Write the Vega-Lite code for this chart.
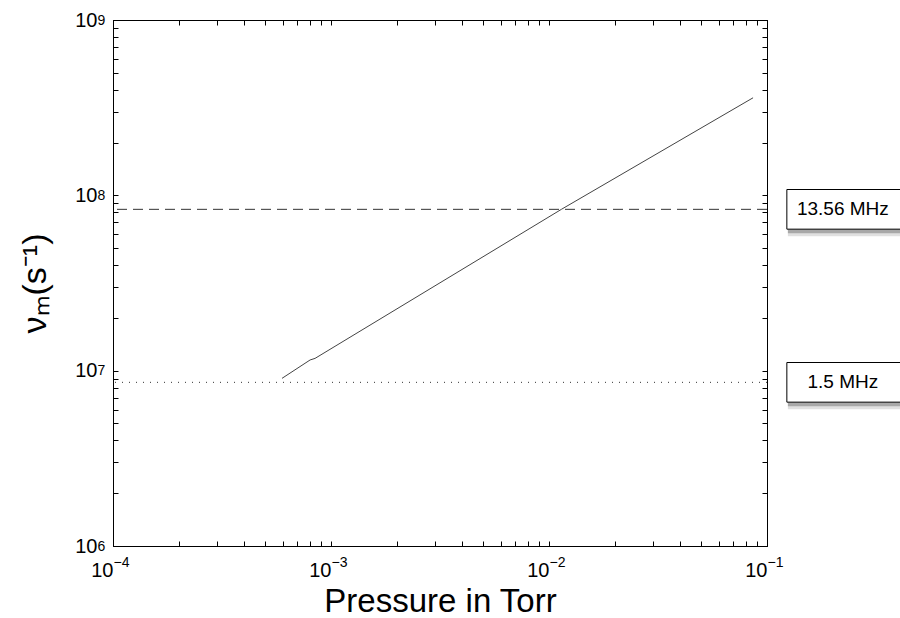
{
  "$schema": "https://vega.github.io/schema/vega-lite/v6.json",
  "autosize": {"type": "none"},
  "width": 654,
  "height": 526,
  "padding": {"left": 113, "top": 20, "right": 133, "bottom": 72},
  "background": "white",
  "config": {
    "font": "Liberation Sans",
    "view": {"stroke": "black", "strokeWidth": 1},
    "axis": {
      "domainColor": "black",
      "tickColor": "black",
      "tickSize": -5,
      "grid": false,
      "labelFont": "Liberation Sans",
      "labelFontSize": 20,
      "labelColor": "black",
      "titleFont": "Liberation Sans",
      "titleFontSize": 33,
      "titleFontWeight": "normal",
      "titleColor": "black",
      "labelOverlap": false,
      "labelFlush": false,
      "labelBound": false
    }
  },
  "datasets": {
    "curve": [
      {"p": 0.000596, "nu": 9040000},
      {"p": 0.000802, "nu": 11510000},
      {"p": 0.000845, "nu": 11750000},
      {"p": 0.0114, "nu": 83200000},
      {"p": 0.0863, "nu": 360000000}
    ],
    "refs": [
      {"label": "13.56 MHz", "nu": 83200000, "p": 0.23},
      {"label": "1.5 MHz", "nu": 8580000, "p": 0.23}
    ]
  },
  "resolve": {"axis": {"x": "independent", "y": "independent"}},
  "layer": [
    {
      "data": {"name": "curve"},
      "mark": {"type": "line", "stroke": "#444", "strokeWidth": 1},
      "encoding": {
        "x": {
          "field": "p", "type": "quantitative",
          "scale": {"type": "log", "domain": [0.0001, 0.1], "nice": false},
          "axis": {
            "orient": "bottom",
            "title": "Pressure in Torr",
            "values": [0.0001,0.0002,0.0003,0.0004,0.0005,0.0006,0.0007,0.0008,0.0009,0.001,0.002,0.003,0.004,0.005,0.006,0.007,0.008,0.009,0.01,0.02,0.03,0.04,0.05,0.06,0.07,0.08,0.09,0.1],
            "labelExpr": "datum.value==0.0001||datum.value==0.001||datum.value==0.01||datum.value==0.1?'10':''",
            "labelAlign": "right",
            "labelBaseline": "middle",
            "labelDx": 3,
            "labelPadding": 29,
            "titlePadding": 5
          }
        },
        "y": {
          "field": "nu", "type": "quantitative",
          "scale": {"type": "log", "domain": [1000000, 1000000000], "nice": false},
          "axis": {
            "orient": "left",
            "title": "νₘ(s⁻¹)",
            "titleFontSize": 34,
            "values": [1000000,2000000,3000000,4000000,5000000,6000000,7000000,8000000,9000000,10000000,20000000,30000000,40000000,50000000,60000000,70000000,80000000,90000000,100000000,200000000,300000000,400000000,500000000,600000000,700000000,800000000,900000000,1000000000],
            "labelExpr": "datum.value==1000000||datum.value==10000000||datum.value==100000000||datum.value==1000000000?'10':''",
            "labelAlign": "right",
            "labelBaseline": "middle",
            "labelDy": 1,
            "labelPadding": 21,
            "titlePadding": 22
          }
        }
      }
    },
    {
      "data": {"name": "curve"},
      "mark": {"type": "line", "strokeOpacity": 0},
      "encoding": {
        "x": {
          "field": "p", "type": "quantitative",
          "axis": {
            "orient": "bottom", "title": null, "domain": false, "ticks": false,
            "values": [0.0001, 0.001, 0.01, 0.1],
            "labelExpr": "datum.value==0.0001?'−4':datum.value==0.001?'−3':datum.value==0.01?'−2':'−1'",
            "labelFontSize": 14,
            "labelAlign": "left",
            "labelBaseline": "middle",
            "labelDx": 3,
            "labelPadding": 16
          }
        },
        "y": {
          "field": "nu", "type": "quantitative",
          "axis": {
            "orient": "left", "title": null, "domain": false, "ticks": false,
            "values": [1000000, 10000000, 100000000, 1000000000],
            "labelExpr": "datum.value==1000000?'6':datum.value==10000000?'7':datum.value==100000000?'8':'9'",
            "labelFontSize": 14,
            "labelAlign": "left",
            "labelBaseline": "middle",
            "labelDy": -10,
            "labelPadding": 16
          }
        }
      }
    },
    {
      "data": {"name": "curve"},
      "mark": {"type": "line", "strokeOpacity": 0},
      "encoding": {
        "x": {
          "field": "p", "type": "quantitative",
          "axis": {
            "orient": "top", "title": null, "labels": false,
            "values": [0.0001,0.0002,0.0003,0.0004,0.0005,0.0006,0.0007,0.0008,0.0009,0.001,0.002,0.003,0.004,0.005,0.006,0.007,0.008,0.009,0.01,0.02,0.03,0.04,0.05,0.06,0.07,0.08,0.09,0.1]
          }
        },
        "y": {
          "field": "nu", "type": "quantitative",
          "axis": {
            "orient": "right", "title": null, "labels": false,
            "values": [1000000,2000000,3000000,4000000,5000000,6000000,7000000,8000000,9000000,10000000,20000000,30000000,40000000,50000000,60000000,70000000,80000000,90000000,100000000,200000000,300000000,400000000,500000000,600000000,700000000,800000000,900000000,1000000000]
          }
        }
      }
    },
    {
      "data": {"name": "refs"},
      "mark": {"type": "rule", "stroke": "#333", "strokeWidth": 1},
      "encoding": {
        "y": {"field": "nu", "type": "quantitative", "axis": null},
        "strokeDash": {
          "field": "label", "type": "nominal",
          "scale": {"domain": ["13.56 MHz", "1.5 MHz"], "range": [[10, 6], [1, 6]]},
          "legend": null
        }
      }
    },
    {
      "data": {"name": "refs"},
      "mark": {"type": "point", "shape": "M-1,-0.336H1V0.336H-1Z", "size": 13924, "filled": true, "fill": "black", "opacity": 0.12, "strokeWidth": 0, "xOffset": 1, "yOffset": 7},
      "encoding": {
        "x": {"field": "p", "type": "quantitative", "axis": null},
        "y": {"field": "nu", "type": "quantitative", "axis": null}
      }
    },
    {
      "data": {"name": "refs"},
      "mark": {"type": "point", "shape": "M-1,-0.336H1V0.336H-1Z", "size": 13924, "filled": true, "fill": "black", "opacity": 0.25, "strokeWidth": 0, "xOffset": 1, "yOffset": 4},
      "encoding": {
        "x": {"field": "p", "type": "quantitative", "axis": null},
        "y": {"field": "nu", "type": "quantitative", "axis": null}
      }
    },
    {
      "data": {"name": "refs"},
      "mark": {"type": "point", "shape": "M-1,-0.336H1V0.336H-1Z", "size": 13924, "filled": true, "fill": "white", "opacity": 1, "stroke": "black", "strokeWidth": 1},
      "encoding": {
        "x": {"field": "p", "type": "quantitative", "axis": null},
        "y": {"field": "nu", "type": "quantitative", "axis": null}
      }
    },
    {
      "data": {"name": "refs"},
      "mark": {"type": "text", "font": "Liberation Sans", "fontSize": 19, "color": "black", "align": "center", "baseline": "middle", "dx": -3},
      "encoding": {
        "x": {"field": "p", "type": "quantitative", "axis": null},
        "y": {"field": "nu", "type": "quantitative", "axis": null},
        "text": {"field": "label"}
      }
    }
  ]
}
